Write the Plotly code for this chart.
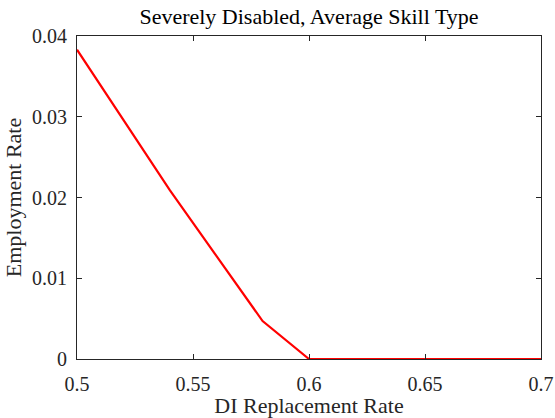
import plotly.graph_objects as go

# Data
replacement_rate = [0.50, 0.52, 0.54, 0.56, 0.58, 0.60, 0.62, 0.64, 0.66, 0.68, 0.70]
employment_rate = [0.0383, 0.0296, 0.0209, 0.0128, 0.0047, 0.0, 0.0, 0.0, 0.0, 0.0, 0.0]

x_ticks = [0.5, 0.55, 0.6, 0.65, 0.7]
x_tick_labels = ["0.5", "0.55", "0.6", "0.65", "0.7"]
y_ticks = [0, 0.01, 0.02, 0.03, 0.04]
y_tick_labels = ["0", "0.01", "0.02", "0.03", "0.04"]

FONT = "Liberation Serif, Times New Roman, serif"
AX = "#262626"

fig = go.Figure()
fig.add_trace(go.Scatter(
    x=replacement_rate, y=employment_rate, mode="lines",
    line=dict(color="#ff0000", width=2.2), showlegend=False,
))

axis_common = dict(
    showgrid=False, zeroline=False, showline=True, linecolor=AX, linewidth=1,
    mirror="ticks", ticks="inside", ticklen=5, tickcolor=AX, tickwidth=1,
    tickfont=dict(family=FONT, size=20, color=AX), automargin=False,
)

fig.update_layout(
    width=555, height=418,
    margin=dict(l=77, r=14, t=36, b=59),
    paper_bgcolor="white", plot_bgcolor="white",
    font=dict(family=FONT, size=20, color=AX),
    title=dict(text="Severely Disabled, Average Skill Type", x=0.5, xref="paper",
               y=0.96, yref="container", yanchor="middle",
               font=dict(family=FONT, size=22, color="#000000")),
    xaxis=dict(range=[0.5, 0.7], tickvals=x_ticks, ticktext=x_tick_labels,
               title=dict(text="DI Replacement Rate", standoff=3,
                          font=dict(family=FONT, size=22, color=AX)),
               ticklabelstandoff=7, **axis_common),
    yaxis=dict(range=[0, 0.04], tickvals=y_ticks, ticktext=y_tick_labels,
               title=dict(text="Employment Rate", standoff=4,
                          font=dict(family=FONT, size=22, color=AX)),
               ticklabelstandoff=5, **axis_common),
)

fig.write_html("out.html", config={"displayModeBar": False},
               post_script="document.body.style.margin='0';")
